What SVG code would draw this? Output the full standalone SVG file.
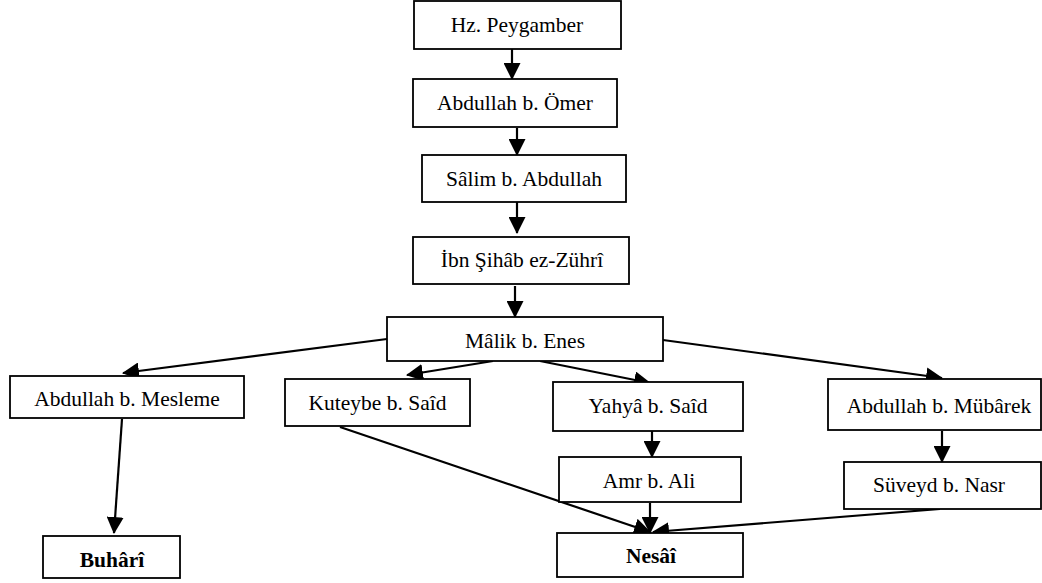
<svg xmlns="http://www.w3.org/2000/svg" width="1042" height="583" viewBox="0 0 1042 583">
<style>
.box{fill:#fff;stroke:#000;stroke-width:1.8}
.t{font-family:"Liberation Serif","Times New Roman",serif;font-size:21.5px;fill:#000;text-anchor:middle}
.b{font-weight:bold}
.c{stroke:#000;stroke-width:2.2;fill:none;marker-end:url(#ah)}
</style>
<defs>
<marker id="ah" markerUnits="userSpaceOnUse" markerWidth="17" markerHeight="17" viewBox="0 0 17 17" refX="16" refY="8.5" orient="auto">
<path d="M0,0 L17,8.5 L0,17 z" fill="#000"/>
</marker>
</defs>
<rect width="1042" height="583" fill="#fff"/>
<g id="connectors">
<line class="c" x1="512" y1="49" x2="512" y2="79"/>
<line class="c" x1="517" y1="128" x2="517" y2="155"/>
<line class="c" x1="517" y1="202" x2="517" y2="233"/>
<line class="c" x1="515" y1="286" x2="515" y2="317"/>
<line class="c" x1="387" y1="339" x2="123" y2="373"/>
<line class="c" x1="493" y1="361" x2="407" y2="375"/>
<line class="c" x1="540" y1="361" x2="650" y2="383"/>
<line class="c" x1="663" y1="340" x2="942" y2="378"/>
<line class="c" x1="122" y1="419" x2="114" y2="533"/>
<line class="c" x1="652" y1="431" x2="652" y2="457"/>
<line class="c" x1="942" y1="431" x2="942" y2="462"/>
<line class="c" x1="650" y1="503" x2="650" y2="533"/>
<line class="c" x1="340" y1="427" x2="650" y2="532"/>
<line class="c" x1="940" y1="509" x2="653" y2="532"/>
</g>
<g id="n1"><rect class="box" x="414" y="1" width="207" height="48"/><text class="t" x="517" y="32">Hz. Peygamber</text></g>
<g id="n2"><rect class="box" x="413" y="79" width="204" height="48"/><text class="t" x="515" y="110">Abdullah b. Ömer</text></g>
<g id="n3"><rect class="box" x="422" y="155" width="204" height="47"/><text class="t" x="524" y="186">Sâlim b. Abdullah</text></g>
<g id="n4"><rect class="box" x="413" y="237" width="216" height="47"/><text class="t" x="522" y="267">İbn Şihâb ez-Zührî</text></g>
<g id="n5"><rect class="box" x="387" y="317" width="276" height="44"/><text class="t" x="525" y="348">Mâlik b. Enes</text></g>
<g id="n6"><rect class="box" x="10" y="376" width="234" height="42"/><text class="t" x="127" y="406">Abdullah b. Mesleme</text></g>
<g id="n7"><rect class="box" x="285" y="379" width="185" height="47"/><text class="t" x="377.5" y="410">Kuteybe b. Saîd</text></g>
<g id="n8"><rect class="box" x="553" y="382" width="190" height="49"/><text class="t" x="648" y="413">Yahyâ b. Saîd</text></g>
<g id="n9"><rect class="box" x="828" y="379" width="213" height="51"/><text class="t" x="939" y="413">Abdullah b. Mübârek</text></g>
<g id="n10"><rect class="box" x="559" y="457" width="182" height="45"/><text class="t" x="649" y="488">Amr b. Ali</text></g>
<g id="n11"><rect class="box" x="844" y="462" width="197" height="47"/><text class="t" x="939" y="492">Süveyd b. Nasr</text></g>
<g id="n12"><rect class="box" x="43" y="536" width="137" height="42"/><text class="t b" x="112" y="567">Buhârî</text></g>
<g id="n13"><rect class="box" x="557" y="533" width="186" height="44"/><text class="t b" x="651" y="563">Nesâî</text></g>
</svg>
